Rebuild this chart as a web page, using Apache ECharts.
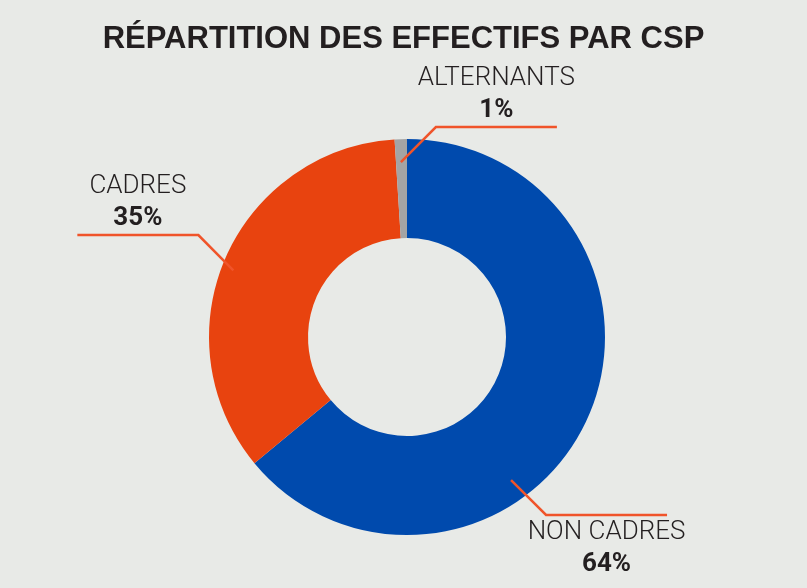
<!DOCTYPE html>
<html>
<head>
<meta charset="utf-8">
<script src="https://cdn.jsdelivr.net/npm/echarts@6/dist/echarts.min.js"></script>
<style>
  html, body { margin: 0; padding: 0; background: #e8eae7; }
  #chart { width: 807px; height: 588px; }
</style>
</head>
<body>
<div id="chart"></div>
<script>
// données du graphique
var categories = ['NON CADRES', 'CADRES', 'ALTERNANTS']
var shares = [64, 35, 1]
var colors = ['#004aad', '#e8430f', '#a4a4a4']

// lignes de rappel : angle (depuis midi, sens horaire), rayon de départ, direction
var leaders = [
  { angle: 144, r: 177, dx: 1, dy: 1 },
  { angle: 291, r: 186, dx: -1, dy: -1 },
  { angle: 358, r: 175, dx: 1, dy: -1 }
]
var center = [407, 337]
var radius = [99, 198]
var diag = 35
var run = 121

function getPieData (transparent) {
  var data = []
  for (let i = 0; i < categories.length; i++) {
    data.push({
      name: categories[i],
      value: shares[i],
      itemStyle: { color: transparent ? 'rgba(0,0,0,0)' : colors[i] }
    })
  }
  return data
}

// place le texte au milieu du segment horizontal
function layoutLabel (params) {
  var l = leaders[params.dataIndex]
  var a = l.angle * Math.PI / 180
  var x0 = center[0] + l.r * Math.sin(a)
  var y0 = center[1] - l.r * Math.cos(a)
  var x1 = x0 + l.dx * diag
  var y1 = Math.round(y0 + l.dy * diag)
  var x2 = x1 + l.dx * run
  return {
    x: (x1 + x2) / 2,
    y: y1 + (l.dy < 0 ? -1 : 1),
    align: 'center',
    verticalAlign: l.dy < 0 ? 'bottom' : 'top',
    labelLinePoints: [[x0, y0], [x1, y1], [x2, y1]]
  }
}

var chart = echarts.init(document.getElementById('chart'))
chart.setOption({
  backgroundColor: '#e8eae7',
  animation: false,
  title: {
    text: 'RÉPARTITION DES EFFECTIFS PAR CSP',
    left: 'center',
    top: 24,
    padding: 0,
    textStyle: {
      fontFamily: 'Liberation Sans',
      fontSize: 31,
      fontWeight: 'bold',
      color: '#231f20'
    }
  },
  series: [
    // les secteurs
    {
      type: 'pie',
      z: 2,
      center: center,
      radius: radius,
      startAngle: 90,
      silent: true,
      emphasis: { disabled: true },
      label: { show: false },
      labelLine: { show: false },
      data: getPieData(false)
    },
    // étiquettes et lignes de rappel, au-dessus des secteurs
    {
      type: 'pie',
      z: 3,
      center: center,
      radius: radius,
      startAngle: 90,
      avoidLabelOverlap: false,
      silent: true,
      emphasis: { disabled: true },
      label: {
        show: true,
        position: 'outside',
        formatter: function (p) {
          return '{name|' + p.name + '}\n{pct|' + p.value + '%}'
        },
        rich: {
          name: {
            fontFamily: 'Roboto',
            fontSize: 26,
            fontWeight: 300,
            color: '#231f20',
            lineHeight: 32
          },
          pct: {
            fontFamily: 'Roboto',
            fontSize: 26,
            fontWeight: 'bold',
            color: '#231f20',
            lineHeight: 32
          }
        }
      },
      labelLine: {
        show: true,
        lineStyle: { color: '#f0542a', width: 2.5 }
      },
      labelLayout: layoutLabel,
      data: getPieData(true)
    }
  ]
})
</script>
</body>
</html>
